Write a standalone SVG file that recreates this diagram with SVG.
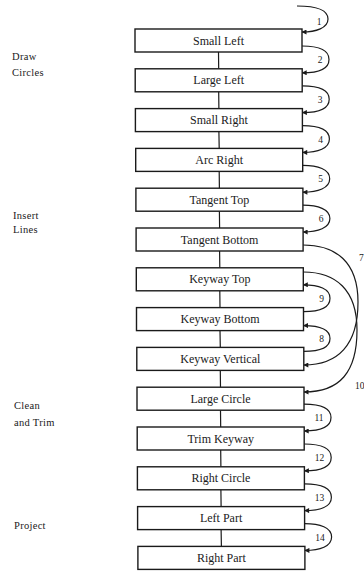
<svg xmlns="http://www.w3.org/2000/svg" width="364" height="571" viewBox="0 0 364 571">
<style>
.box{fill:#fff;stroke:#1a1a1a;stroke-width:1.4}
.bt{font-family:"Liberation Serif","DejaVu Serif",serif;font-size:12px;fill:#1a1a1a;text-anchor:middle}
.side{font-family:"Liberation Serif","DejaVu Serif",serif;font-size:10.5px;fill:#1a1a1a;letter-spacing:0.3px}
.num{font-family:"Liberation Serif","DejaVu Serif",serif;font-size:9.5px;fill:#1a1a1a;text-anchor:middle}
.c{fill:none;stroke:#1a1a1a;stroke-width:1.2}
.ar{fill:none;stroke:#1a1a1a;stroke-width:1.2;marker-end:url(#ah)}
</style>
<defs>
<marker id="ah" viewBox="0 0 10 10" refX="9" refY="5" markerWidth="6" markerHeight="5" markerUnits="userSpaceOnUse" orient="auto">
<path d="M0,0 L10,5 L0,10 z" fill="#1a1a1a"/>
</marker>
</defs>
<rect width="364" height="571" fill="#fff"/>
<g id="side-labels">
<text class="side" x="12" y="60">Draw</text>
<text class="side" x="12" y="76">Circles</text>
<text class="side" x="13" y="218.5">Insert</text>
<text class="side" x="13" y="233">Lines</text>
<text class="side" x="14" y="409">Clean</text>
<text class="side" x="14" y="425.5">and Trim</text>
<text class="side" x="14" y="528.5">Project</text>
</g>
<g id="connectors">
<!-- vertical links -->
<path class="c" d="M218.5,52 L218.7,68.8 M218.7,91.8 L218.9,108.6 M218.9,131.6 L219.2,148.4 M219.2,171.4 L219.4,188.2 M219.4,211.2 L219.6,228 M219.6,251 L219.8,267.8 M219.8,290.8 L220,307.6 M220,330.6 L220.3,347.4 M220.3,370.4 L220.5,387.2 M220.5,410.2 L220.7,427 M220.7,450 L220.9,466.8 M220.9,489.8 L221.1,506.6 M221.1,529.6 L221.4,546.4"/>
<!-- loop 1 -->
<path class="ar" d="M297,6 C316,6 328,10 328,19 C328,28 316,32 302,32"/>
<!-- loops 2-6 -->
<path class="ar" d="M302,46 C318,46 329,50 329,59.4 C329,68.8 318,72.8 302.2,72.8"/>
<path class="ar" d="M302.2,85.8 C318,85.8 329.2,89.8 329.2,99.2 C329.2,108.6 318,112.6 302.4,112.6"/>
<path class="ar" d="M302.4,125.6 C318,125.6 329.4,129.6 329.4,139 C329.4,148.4 318,152.4 302.7,152.4"/>
<path class="ar" d="M302.7,165.4 C318,165.4 329.7,169.4 329.7,178.8 C329.7,188.2 318,192.2 302.9,192.2"/>
<path class="ar" d="M302.9,205.2 C318,205.2 329.9,209.2 329.9,218.6 C329.9,228 318,232 303.1,232"/>
<!-- 7: Tangent Bottom -> Keyway Vertical -->
<path class="ar" d="M303.1,245 C336,245 358,262 358,302 C358,345 338,365 303.8,365"/>
<!-- 8: Keyway Vertical -> Keyway Bottom -->
<path class="ar" d="M303.8,351.4 C319,351.4 330,347.5 330,338.5 C330,329.5 319,325.6 303.5,325.6"/>
<!-- 9: Keyway Bottom -> Keyway Top -->
<path class="ar" d="M303.5,311.6 C319,311.6 330,307.5 330,298.2 C330,289 319,284.8 303.3,284.8"/>
<!-- 10: Keyway Top -> Large Circle -->
<path class="ar" d="M303.3,272 C336,272 357,290 357,330 C357,372 340,392 304,392"/>
<!-- loops 11-14 -->
<path class="ar" d="M304,404.2 C320,404.2 331,408.2 331,417.6 C331,427 320,431 304.2,431"/>
<path class="ar" d="M304.2,444 C320,444 331.2,448 331.2,457.4 C331.2,466.8 320,470.8 304.4,470.8"/>
<path class="ar" d="M304.4,483.8 C320,483.8 331.4,487.8 331.4,497.2 C331.4,506.6 320,510.6 304.6,510.6"/>
<path class="ar" d="M304.6,523.6 C320,523.6 331.6,527.6 331.6,537 C331.6,546.4 320,550.4 304.9,550.4"/>
<!-- numbers -->
<text class="num" x="319" y="25">1</text>
<text class="num" x="320" y="63">2</text>
<text class="num" x="320" y="102.5">3</text>
<text class="num" x="320.5" y="142.5">4</text>
<text class="num" x="320.5" y="182">5</text>
<text class="num" x="321" y="222">6</text>
<text class="num" x="359" y="261" style="text-anchor:start">7</text>
<text class="num" x="321.5" y="342">8</text>
<text class="num" x="321.5" y="301.5">9</text>
<text class="num" x="355" y="389" style="text-anchor:start">10</text>
<text class="num" x="319" y="421">11</text>
<text class="num" x="319.5" y="461">12</text>
<text class="num" x="319.5" y="500.5">13</text>
<text class="num" x="320" y="540.5">14</text>
</g>
<g id="n0"><rect class="box" x="135" y="29" width="167" height="23"/><text class="bt" x="218.5" y="44.5">Small Left</text></g>
<g id="n1"><rect class="box" x="135.2" y="68.8" width="167" height="23"/><text class="bt" x="218.7" y="84.3">Large Left</text></g>
<g id="n2"><rect class="box" x="135.4" y="108.6" width="167" height="23"/><text class="bt" x="218.9" y="124.1">Small Right</text></g>
<g id="n3"><rect class="box" x="135.7" y="148.4" width="167" height="23"/><text class="bt" x="219.2" y="163.9">Arc Right</text></g>
<g id="n4"><rect class="box" x="135.9" y="188.2" width="167" height="23"/><text class="bt" x="219.4" y="203.7">Tangent Top</text></g>
<g id="n5"><rect class="box" x="136.1" y="228" width="167" height="23"/><text class="bt" x="219.6" y="243.5">Tangent Bottom</text></g>
<g id="n6"><rect class="box" x="136.3" y="267.8" width="167" height="23"/><text class="bt" x="219.8" y="283.3">Keyway Top</text></g>
<g id="n7"><rect class="box" x="136.5" y="307.6" width="167" height="23"/><text class="bt" x="220" y="323.1">Keyway Bottom</text></g>
<g id="n8"><rect class="box" x="136.8" y="347.4" width="167" height="23"/><text class="bt" x="220.3" y="362.9">Keyway Vertical</text></g>
<g id="n9"><rect class="box" x="137" y="387.2" width="167" height="23"/><text class="bt" x="220.5" y="402.7">Large Circle</text></g>
<g id="n10"><rect class="box" x="137.2" y="427" width="167" height="23"/><text class="bt" x="220.7" y="442.5">Trim Keyway</text></g>
<g id="n11"><rect class="box" x="137.4" y="466.8" width="167" height="23"/><text class="bt" x="220.9" y="482.3">Right Circle</text></g>
<g id="n12"><rect class="box" x="137.6" y="506.6" width="167" height="23"/><text class="bt" x="221.1" y="522.1">Left Part</text></g>
<g id="n13"><rect class="box" x="137.9" y="546.4" width="167" height="23"/><text class="bt" x="221.4" y="561.9">Right Part</text></g>
</svg>
